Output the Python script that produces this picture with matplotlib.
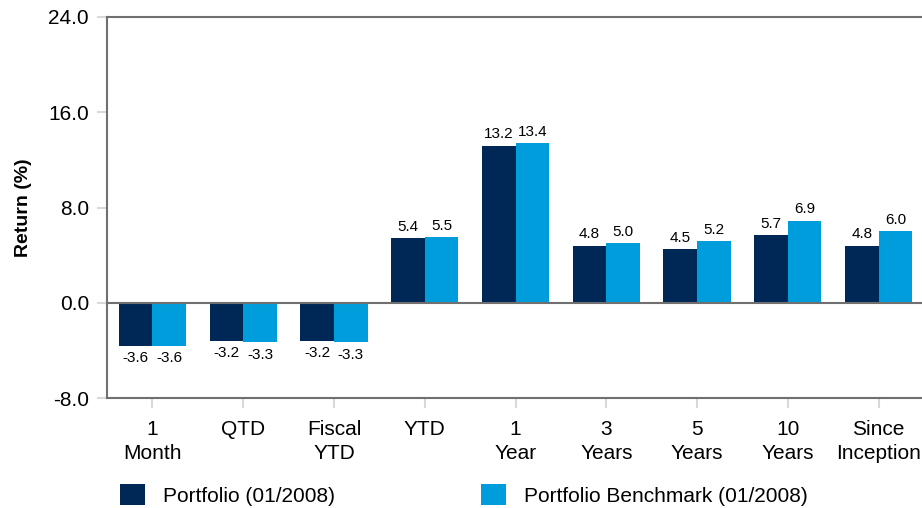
import matplotlib.pyplot as plt
import numpy as np

plt.rcParams["font.family"] = ["Liberation Sans", "DejaVu Sans"]

# data
categories = ["1\nMonth", "QTD", "Fiscal\nYTD", "YTD", "1\nYear", "3\nYears",
              "5\nYears", "10\nYears", "Since\nInception"]
portfolio = [-3.6, -3.2, -3.2, 5.4, 13.2, 4.8, 4.5, 5.7, 4.8]
benchmark = [-3.6, -3.3, -3.3, 5.5, 13.4, 5.0, 5.2, 6.9, 6.0]
series_names = ["Portfolio (01/2008)", "Portfolio Benchmark (01/2008)"]
y_ticks = [-8, 0, 8, 16, 24]

navy = "#002856"
blue = "#009ddc"
spine_c = "#707070"
tick_c = "#d9d9d9"

fig = plt.figure(figsize=(9.22, 5.08), dpi=100, facecolor="white")
ax = fig.add_axes([107 / 922, 1 - 398 / 508, 817 / 922, 381 / 508])

x = np.arange(len(categories))
w = 0.37
b1 = ax.bar(x - w / 2, portfolio, width=w, color=navy, label=series_names[0], zorder=2)
b2 = ax.bar(x + w / 2, benchmark, width=w, color=blue, label=series_names[1], zorder=2)

# value labels
for bars, vals in ((b1, portfolio), (b2, benchmark)):
    for rect, v in zip(bars, vals):
        cx = rect.get_x() + rect.get_width() / 2
        if v >= 0:
            ax.annotate(f"{v:.1f}", (cx, v), xytext=(0, 3), textcoords="offset points",
                        ha="center", va="bottom", fontsize=11)
        else:
            ax.annotate(f"{v:.1f}", (cx, v), xytext=(0, -4), textcoords="offset points",
                        ha="center", va="top", fontsize=11)

ax.axhline(0, color=spine_c, linewidth=1.5, zorder=3)
ax.set_xlim(-0.5, len(categories) - 0.5)
ax.set_ylim(-8, 24)
ax.set_yticks(y_ticks)
ax.set_yticklabels([f"{t:.1f}" for t in y_ticks])
ax.set_xticks(x)
ax.set_xticklabels(categories, linespacing=1.35)
ax.tick_params(axis="both", colors=tick_c, length=7, width=1.5, labelsize=15,
               labelcolor="black")
ax.tick_params(axis="y", pad=6)
ax.tick_params(axis="x", pad=9)
for s in ax.spines.values():
    s.set_color(spine_c)
    s.set_linewidth(1.5)

ax.set_ylabel("Return (%)", fontsize=14, fontweight="bold", labelpad=12)

fig.legend(handles=[b1, b2], loc="lower left", bbox_to_anchor=(106 / 922, -0.022),
           ncol=2, frameon=False, fontsize=15, handlelength=1.2, handleheight=1.2,
           handletextpad=0.87, columnspacing=7.0, borderaxespad=0.25)

plt.savefig("out.png", dpi=100, facecolor="white")
